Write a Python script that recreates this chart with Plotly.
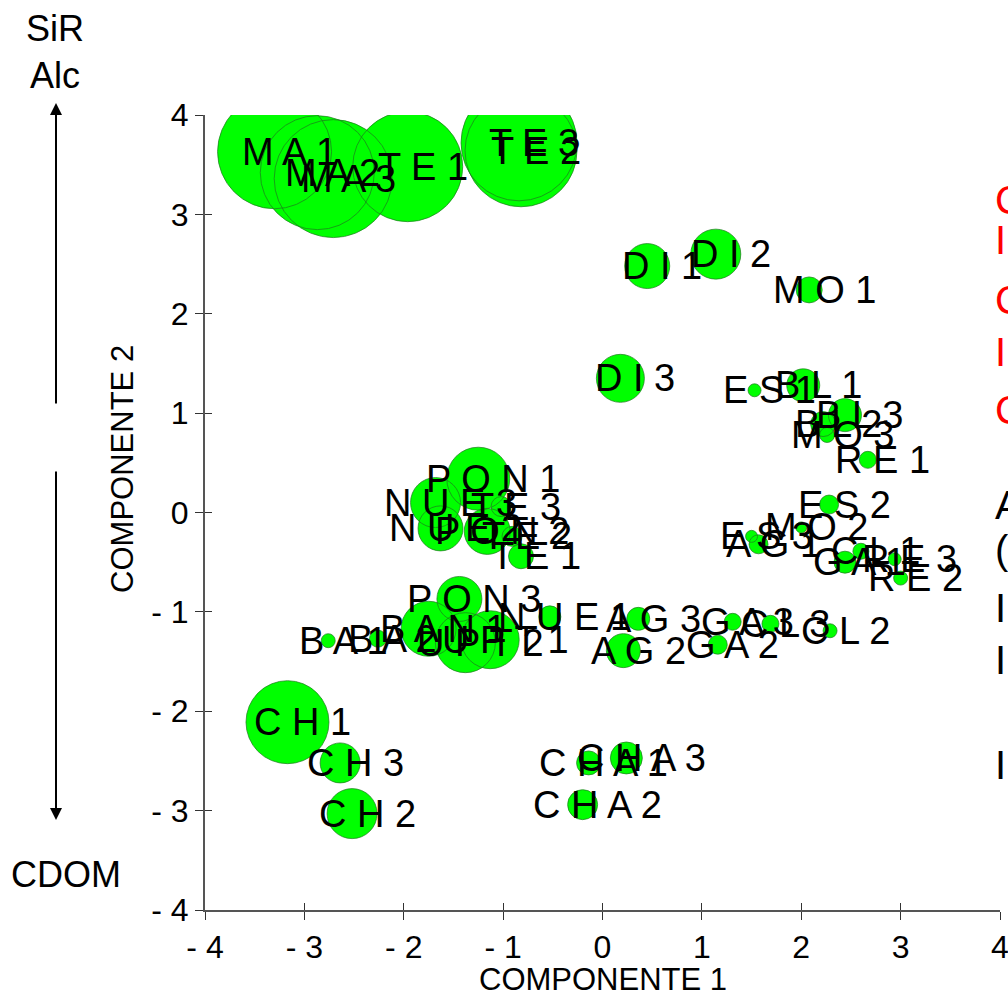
import plotly.graph_objects as go

# Sample scores on the first two principal components, bubble size = relative weight
labels = ["M A 1", "M A 2", "M A 3", "T E 1", "T E 3", "T E 2",
          "D I 1", "D I 2", "M O 1", "D I 3",
          "E S 1", "B L 1", "B L 3", "B L 2", "M O 3", "R E 1",
          "E S 2", "M O 2", "E S 3", "A G 1", "C L 1", "G A 1", "R E 3", "R E 2",
          "A G 3", "G A 3", "C L 3", "C L 2", "A G 2", "G A 2",
          "C H 1", "C H 3", "C H 2", "C H A 1", "C H A 3", "C H A 2",
          "P O N 1", "N U E 3", "N U E 2", "P O N 2", "T E 3", "T E 2", "T E 1",
          "P O N 3", "N U E 1",
          "B A 1", "B A 2", "B A N 1", "U P T 2", "U P T 1"]
comp1 = [-3.30, -2.87, -2.71, -1.96, -0.84, -0.82,
         0.45, 1.14, 2.08, 0.18,
         1.53, 2.02, 2.44, 2.22, 2.26, 2.67,
         2.28, 2.00, 1.50, 1.57, 2.60, 2.44, 2.94, 3.00,
         0.36, 1.31, 1.69, 2.29, 0.21, 1.16,
         -3.17, -2.64, -2.52, -0.14, 0.24, -0.20,
         -1.25, -1.68, -1.63, -1.16, -1.02, -0.91, -0.82,
         -1.44, -0.53,
         -2.76, -2.26, -1.75, -1.38, -1.13]
comp2 = [3.63, 3.42, 3.36, 3.48, 3.72, 3.64,
         2.48, 2.60, 2.24, 1.35,
         1.23, 1.28, 0.98, 0.89, 0.78, 0.53,
         0.08, -0.15, -0.24, -0.32, -0.39, -0.50, -0.47, -0.66,
         -1.07, -1.10, -1.12, -1.19, -1.39, -1.33,
         -2.11, -2.52, -3.03, -2.52, -2.47, -2.94,
         0.34, 0.10, -0.16, -0.19, 0.06, -0.24, -0.44,
         -0.87, -1.05,
         -1.29, -1.27, -1.17, -1.31, -1.28]
weight = [114, 114, 118, 110, 116, 112,
          45, 50, 26, 48,
          13, 33, 33, 25, 15, 17,
          19, 11, 12, 19, 16, 22, 13, 14,
          23, 17, 17, 14, 34, 19,
          83, 40, 50, 24, 32, 30,
          63, 50, 45, 46, 20, 20, 25,
          45, 22,
          14, 17, 55, 60, 58]

tick_vals = [-4, -3, -2, -1, 0, 1, 2, 3, 4]
tick_text = ["- 4", "- 3", "- 2", "- 1", "0", "1", "2", "3", "4"]

FONT = "Liberation Sans, Arial, sans-serif"

fig = go.Figure()

# bubble fills first, then all outlines on top so overlapping rims stay visible
fig.add_trace(go.Scatter(
    x=comp1, y=comp2, mode="markers", hoverinfo="skip",
    marker=dict(size=weight, sizemode="diameter", color="#00FF00",
                line=dict(width=0), opacity=1),
    showlegend=False))
fig.add_trace(go.Scatter(
    x=comp1, y=comp2, mode="markers", hoverinfo="skip",
    marker=dict(size=weight, sizemode="diameter", color="rgba(0,0,0,0)",
                line=dict(width=1, color="#1f7a1f")),
    showlegend=False))
# helper trace so the overlaid tick axes are drawn
fig.add_trace(go.Scatter(x=[None], y=[None], xaxis="x2", yaxis="y2",
                         showlegend=False, hoverinfo="skip"))

annotations = []
for lab, cx, cy in zip(labels, comp1, comp2):
    annotations.append(dict(x=cx, y=cy, text=lab, showarrow=False,
                            xanchor="center", yanchor="middle", xshift=15,
                            font=dict(family=FONT, size=38, color="black")))

# axis titles
annotations.append(dict(xref="paper", yref="paper", x=0.5, y=-0.088,
                        text="COMPONENTE 1", showarrow=False,
                        xanchor="center", yanchor="middle",
                        font=dict(family=FONT, size=31, color="black")))
annotations.append(dict(xref="paper", yref="paper", x=-0.103, y=0.555,
                        text="COMPONENTE 2", showarrow=False, textangle=-90,
                        xanchor="center", yanchor="middle",
                        font=dict(family=FONT, size=31, color="black")))

# direction labels and arrows beside the vertical axis
def px_x(p):
    return (p - 205) / 795.0

def px_y(p):
    return (910 - p) / 795.0

for txt, yy in [("SiR", 28), ("Alc", 75)]:
    annotations.append(dict(xref="paper", yref="paper", x=px_x(55), y=px_y(yy),
                            text=txt, showarrow=False, xanchor="center",
                            yanchor="middle",
                            font=dict(family=FONT, size=36, color="black")))
annotations.append(dict(xref="paper", yref="paper", x=px_x(66), y=px_y(874),
                        text="CDOM", showarrow=False, xanchor="center",
                        yanchor="middle",
                        font=dict(family=FONT, size=36, color="black")))
annotations.append(dict(xref="paper", yref="paper", x=px_x(56), y=px_y(103),
                        ax=0, ay=302, text="", showarrow=True, arrowhead=2,
                        arrowsize=1.2, arrowwidth=2, arrowcolor="black"))
annotations.append(dict(xref="paper", yref="paper", x=px_x(56), y=px_y(820),
                        ax=0, ay=-350, text="", showarrow=True, arrowhead=2,
                        arrowsize=1.2, arrowwidth=2, arrowcolor="black"))

# side notes running past the right edge
side_notes = [("C", 200, "red"), ("I", 240, "red"), ("C", 300, "red"),
              ("I", 352, "red"), ("C", 410, "red"),
              ("A", 505, "black"), ("(", 550, "black"), ("I", 608, "black"),
              ("I", 660, "black"), ("I", 765, "black")]
for txt, yy, col in side_notes:
    annotations.append(dict(xref="paper", yref="paper", x=px_x(993), y=px_y(yy),
                            text=txt, showarrow=False, xanchor="left",
                            yanchor="middle",
                            font=dict(family=FONT, size=40, color=col)))

axis_common = dict(range=[-4, 4], tickvals=tick_vals, ticktext=tick_text,
                   showgrid=False, zeroline=False, ticklen=8, tickwidth=1,
                   tickcolor="#333333", automargin=False,
                   tickfont=dict(family=FONT, size=32, color="black"))

fig.update_layout(
    width=1008, height=1002,
    margin=dict(l=205, r=8, t=115, b=92, autoexpand=False),
    paper_bgcolor="white", plot_bgcolor="white",
    xaxis=dict(**axis_common, ticks="outside", showline=True,
               linecolor="#555555", linewidth=2, ticklabeloverflow="allow"),
    yaxis=dict(**axis_common, ticks="outside", showline=True,
               linecolor="#555555", linewidth=2),
    xaxis2=dict(range=[-4, 4], tickvals=tick_vals, overlaying="x",
                anchor="y2", side="bottom", ticks="inside", ticklen=7,
                tickcolor="#333333", showticklabels=False, showgrid=False,
                zeroline=False, showline=False),
    yaxis2=dict(range=[-4, 4], tickvals=tick_vals, overlaying="y",
                anchor="x2", side="left", ticks="inside", ticklen=7,
                tickcolor="#333333", showticklabels=False, showgrid=False,
                zeroline=False, showline=False),
    annotations=annotations,
    showlegend=False,
)

fig.write_html("out.html")
